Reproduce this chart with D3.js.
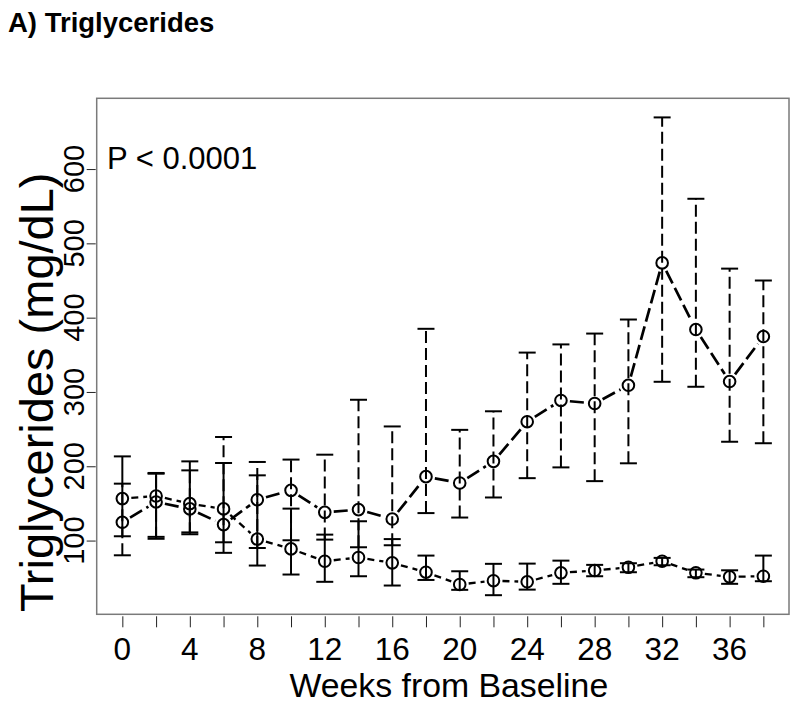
<!DOCTYPE html>
<html><head><meta charset="utf-8">
<script src="https://cdn.jsdelivr.net/npm/d3@7"></script>
<style>body{margin:0;background:#fff}svg{display:block}text{font-family:"Liberation Sans",Arial,sans-serif;fill:#000}</style>
</head><body>
<svg id="c" width="799" height="710"></svg>
<script>
const weeks = [0,2,4,6,8,10,12,14,16,18,20,22,24,26,28,30,32,34,36,38];
const highMean  = [124.6,152,142.6,121.5,155,167.6,138,141.7,129,186,177.5,206.6,260,288.6,284.5,309,473.7,384,314,374.6];
const highLower = [80.2,102.4,108.5,97.7,90,100.4,101.3,91,93.7,137,131,158,184,198.5,180,204,313.7,307,233,231];
const highUpper = [176.6,190,194.5,239.4,205.8,209,215.6,289.5,253.6,385,249,274,353,364,378.6,397.5,669.5,560,466,450];
const lowMean  = [156.5,160,149.7,142.6,102,88.8,72.2,77.2,70,57.4,40.9,46,44.5,56.6,59.7,64,72.2,56.6,51.2,52];
const lowLower = [105.8,105,111,83.5,66.4,54.3,44.5,52,39.5,47,33.7,26.5,34,41.8,52,57.4,66.8,50.7,41.8,45.3];
const lowUpper = [213.3,191,206.6,204.4,187.8,143,108,126,102,79.8,58.7,68.7,69,73,67.3,69.5,76.7,61,60,79.8];
const xTicks = [0,2,4,6,8,10,12,14,16,18,20,22,24,26,28,30,32,34,36,38];
const xLabels = [0,4,8,12,16,20,24,28,32,36];
const yTicks = [100,200,300,400,500,600];
const titleText = "A) Triglycerides";
const pText = "P < 0.0001";
const xTitle = "Weeks from Baseline";
const yTitle = "Triglycerides (mg/dL)";

const svg = d3.select("#c");
const L = 96.7, R = 789, T = 98.3, B = 614.3;

// R-style 4% padding
const xmin = d3.min(weeks), xmax = d3.max(weeks);
const xpad = (xmax - xmin) * 0.04;
const x = d3.scaleLinear().domain([xmin - xpad, xmax + xpad]).range([L, R]);
const ymin = d3.min(highLower.concat(lowLower)), ymax = d3.max(highUpper.concat(lowUpper));
const ypad = (ymax - ymin) * 0.04;
const y = d3.scaleLinear().domain([ymin - ypad, ymax + ypad]).range([B, T]);

// title
svg.append("text").attr("x", 8).attr("y", 32).attr("font-size", 27.5).attr("font-weight", "bold").text(titleText);

// box
svg.append("rect").attr("x", L).attr("y", T).attr("width", R - L).attr("height", B - T)
  .attr("fill", "none").attr("stroke", "#7a7a7a").attr("stroke-width", 1.5);

// x axis
const xa = svg.append("g").attr("transform", `translate(0,${B + 2})`)
  .call(d3.axisBottom(x).tickValues(xTicks).tickSize(11).tickFormat(""));
xa.select(".domain").remove();
xa.selectAll("line").attr("stroke", "#222").attr("stroke-width", 1);
svg.append("g").selectAll("text").data(xLabels).join("text")
  .attr("x", d => x(d)).attr("y", 660).attr("text-anchor", "middle").attr("font-size", 31.5)
  .text(d => d);
svg.append("text").attr("x", (L + R) / 2 + 6).attr("y", 697).attr("text-anchor", "middle")
  .attr("font-size", 33.8).text(xTitle);

// y axis
const ya = svg.append("g").attr("transform", `translate(${L - 1},0)`)
  .call(d3.axisLeft(y).tickValues(yTicks).tickSize(9).tickFormat(""));
ya.select(".domain").remove();
ya.selectAll("line").attr("stroke", "#222").attr("stroke-width", 1);
svg.append("g").selectAll("text").data(yTicks).join("text")
  .attr("transform", d => `translate(84,${y(d)}) rotate(-90)`)
  .attr("text-anchor", "middle").attr("font-size", 29).text(d => d);
svg.append("text").attr("transform", `translate(53,${(T + B) / 2 + 36}) rotate(-90)`)
  .attr("text-anchor", "middle").attr("font-size", 47).text(yTitle);

// P value
svg.append("text").attr("x", 107).attr("y", 169).attr("font-size", 31).text(pText);

function drawSeries(mean, lower, upper, lineDash, barDash, lineW) {
  const g = svg.append("g");
  const cap = 8.5;
  weeks.forEach((w, i) => {
    const cx = x(w);
    g.append("line").attr("x1", cx).attr("x2", cx).attr("y1", y(lower[i])).attr("y2", y(upper[i]))
      .attr("stroke", "#000").attr("stroke-width", 2).attr("stroke-dasharray", barDash);
    [lower[i], upper[i]].forEach(v => {
      g.append("line").attr("x1", cx - cap).attr("x2", cx + cap).attr("y1", y(v)).attr("y2", y(v))
        .attr("stroke", "#000").attr("stroke-width", 2);
    });
  });
  // connecting segments with gaps around points (type="b")
  const gap = 9;
  for (let i = 0; i < weeks.length - 1; i++) {
    const x1 = x(weeks[i]), y1 = y(mean[i]), x2 = x(weeks[i + 1]), y2 = y(mean[i + 1]);
    const dx = x2 - x1, dy = y2 - y1, len = Math.hypot(dx, dy);
    if (len <= 2 * gap) continue;
    const ux = dx / len, uy = dy / len;
    g.append("line").attr("x1", x1 + ux * gap).attr("y1", y1 + uy * gap)
      .attr("x2", x2 - ux * gap).attr("y2", y2 - uy * gap)
      .attr("stroke", "#000").attr("stroke-width", lineW).attr("stroke-dasharray", lineDash);
  }
  g.selectAll("circle").data(weeks).join("circle")
    .attr("cx", d => x(d)).attr("cy", (d, i) => y(mean[i])).attr("r", 5.8)
    .attr("fill", "none").attr("stroke", "#000").attr("stroke-width", 2);
}
drawSeries(lowMean, lowLower, lowUpper, "7,5", null, 2.3);
drawSeries(highMean, highLower, highUpper, "14,5", "12,5", 2.7);
</script>
</body></html>
